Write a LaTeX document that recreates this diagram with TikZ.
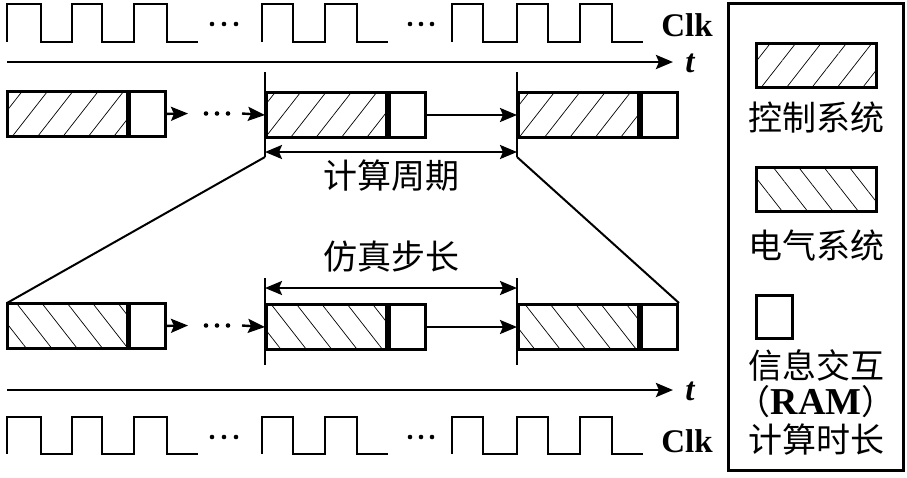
\documentclass[tikz,border=0pt]{standalone}
\usepackage{fontspec}
\setmainfont{Liberation Serif}
\newfontfamily\cjk{Noto Sans CJK SC}
\usetikzlibrary{arrows.meta,positioning,patterns.meta}

\tikzset{
  ctrl/.style={rectangle, draw, line width=3pt, minimum width=120pt, minimum height=45pt, inner sep=0pt,
    pattern={Lines[angle=52,distance=20pt,line width=0.7pt]}},
  elec/.style={ctrl, pattern={Lines[angle=-52,distance=20pt,line width=0.7pt]}},
  ram/.style={rectangle, draw, line width=3pt, minimum width=36pt, minimum height=45pt, inner sep=0pt},
  clk/.style={line width=2.8pt, line join=miter},
  arr/.style={line width=2.4pt, -{Stealth[length=17pt,width=14pt,inset=3pt]}},
  span/.style={line width=2.4pt, {Stealth[length=17pt,width=14pt,inset=3pt]}-{Stealth[length=17pt,width=14pt,inset=3pt]}},
  mark line/.style={line width=2.4pt},
  cn/.style={font=\cjk\fontsize{34}{40}\selectfont, inner sep=0pt},
  en/.style={font=\bfseries\fontsize{33}{36}\selectfont, inner sep=0pt},
  tlabel/.style={font=\bfseries\itshape\fontsize{33}{36}\selectfont, inner sep=0pt}
}

\begin{document}
\begin{tikzpicture}[x=1pt, y=-1pt]
    \useasboundingbox (0,0) rectangle (907,477);

    % Top clock
    \draw[clk] (7,42) -- (7,4) -- (41,4) -- (41,42) -- (72,42) -- (72,4) -- (102,4) -- (102,42)
        -- (134,42) -- (134,4) -- (167,4) -- (167,42) -- (198,42);
    \draw[clk] (262,42) -- (262,4) -- (293,4) -- (293,42) -- (325,42) -- (325,4) -- (357,4) -- (357,42) -- (388,42);
    \draw[clk] (452,42) -- (452,4) -- (483,4) -- (483,42) -- (517,42) -- (517,4) -- (548,4) -- (548,42)
        -- (580,42) -- (580,4) -- (612,4) -- (612,42) -- (643,42);
    \fill (212,24) circle (2.3pt) (224,24) circle (2.3pt) (236,24) circle (2.3pt);
    \fill (410,24) circle (2.3pt) (421,24) circle (2.3pt) (432,24) circle (2.3pt);
    \node[en] (clkA) at (687,25) {Clk};

    % Top time axis
    \coordinate (axA) at (7,62);
    \coordinate (axAend) at (673,62);
    \draw[arr, line width=2.8pt] (axA) -- (axAend);
    \node[tlabel] (tA) at (690,63) {t};

    % Control system blocks
    \node[ctrl, anchor=north west] (c1) at (7,91) {};
    \node[ram, right=0pt of c1] (r1) {};
    \node[ctrl, anchor=north west] (c2) at (265,91) {};
    \node[ram, right=0pt of c2] (r2) {};
    \node[ctrl, anchor=north west] (c3) at (517,91) {};
    \node[ram, right=0pt of c3] (r3) {};

    \coordinate (cA) at (188,113.5);
    \coordinate (cB) at (242,113.5);
    \draw[arr] (r1.east) -- (cA);
    \fill (206,113.5) circle (2.3pt) (217,113.5) circle (2.3pt) (228,113.5) circle (2.3pt);
    \draw[arr] (cB) -- (c2.west);
    \draw[arr] (r2.east) -- (c3.west);

    % Calculation period
    \coordinate (vA1) at (265,72);
    \coordinate (vA2) at (265,157);
    \coordinate (vB1) at (517,72);
    \coordinate (vB2) at (517,157);
    \draw[mark line] (vA1) -- (vA2);
    \draw[mark line] (vB1) -- (vB2);
    \coordinate (pA) at (265,152);
    \coordinate (pB) at (517,152);
    \draw[span] (pA) -- (pB);
    \node[cn] (period) at (391,176) {计算周期};

    % Simulation step
    \coordinate (wA1) at (265,278);
    \coordinate (wA2) at (265,365);
    \coordinate (wB1) at (517,278);
    \coordinate (wB2) at (517,365);
    \draw[mark line] (wA1) -- (wA2);
    \draw[mark line] (wB1) -- (wB2);
    \coordinate (qA) at (265,288);
    \coordinate (qB) at (517,288);
    \draw[span] (qA) -- (qB);
    \node[cn] (step) at (391,257) {仿真步长};

    % Electrical system blocks
    \node[elec, anchor=north west] (e1) at (7,303) {};
    \node[ram, right=0pt of e1] (s1) {};
    \node[elec, anchor=north west] (e2) at (265,303) {};
    \node[ram, right=0pt of e2] (s2) {};
    \node[elec, anchor=north west] (e3) at (517,303) {};
    \node[ram, right=0pt of e3] (s3) {};

    \coordinate (eA) at (188,325.5);
    \coordinate (eB) at (242,325.5);
    \draw[arr] (s1.east) -- (eA);
    \fill (206,325.5) circle (2.3pt) (217,325.5) circle (2.3pt) (228,325.5) circle (2.3pt);
    \draw[arr] (eB) -- (e2.west);
    \draw[arr] (s2.east) -- (e3.west);

    % Zoom lines
    \draw[line width=2pt] (vA2) -- (e1.north west);
    \draw[line width=2pt] (vB2) -- (s3.north east);

    % Bottom time axis
    \coordinate (axB) at (7,390);
    \coordinate (axBend) at (673,390);
    \draw[arr, line width=2.8pt] (axB) -- (axBend);
    \node[tlabel] (tB) at (690,391) {t};

    % Bottom clock
    \draw[clk] (7,454) -- (7,417) -- (41,417) -- (41,454) -- (72,454) -- (72,417) -- (102,417) -- (102,454)
        -- (134,454) -- (134,417) -- (167,417) -- (167,454) -- (198,454);
    \draw[clk] (262,454) -- (262,417) -- (293,417) -- (293,454) -- (325,454) -- (325,417) -- (357,417) -- (357,454) -- (388,454);
    \draw[clk] (452,454) -- (452,417) -- (483,417) -- (483,454) -- (517,454) -- (517,417) -- (548,417) -- (548,454)
        -- (580,454) -- (580,417) -- (612,417) -- (612,454) -- (643,454);
    \fill (212,437) circle (2.3pt) (224,437) circle (2.3pt) (236,437) circle (2.3pt);
    \fill (410,437) circle (2.3pt) (421,437) circle (2.3pt) (432,437) circle (2.3pt);
    \node[en] (clkB) at (687,441) {Clk};

    % Legend
    \node[rectangle, draw, line width=3pt, minimum width=175pt, minimum height=467pt] (legend) at (815.5,236.5) {};
    \node[ctrl, minimum height=44pt] (lc) at (816,65) {};
    \node[cn] (lct) at (816,117) {控制系统};
    \node[elec, minimum height=44pt] (le) at (816,189) {};
    \node[cn] (let) at (816,245) {电气系统};
    \node[ram, minimum height=43pt] (lr) at (774,316.5) {};
    \node[cn] (lrt) at (816,365) {信息交互};
    \node[cn] (lrr) at (816,402) {（{\rmfamily\bfseries\fontsize{38}{40}\selectfont RAM}）};
    \node[cn] (lrc) at (816,440) {计算时长};
\end{tikzpicture}
\end{document}
